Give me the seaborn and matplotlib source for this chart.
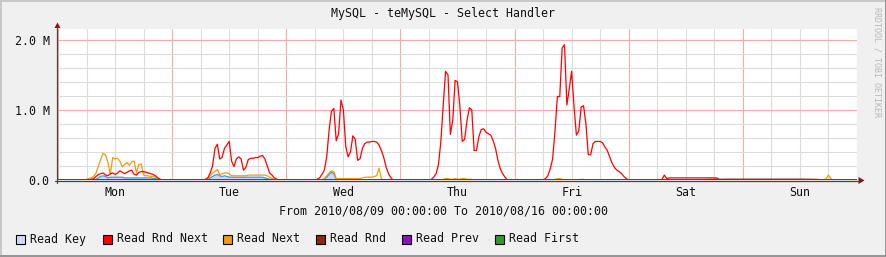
import numpy as np
import pandas as pd
import matplotlib
matplotlib.use("Agg")
import matplotlib.pyplot as plt
import seaborn as sns
from matplotlib.patches import Rectangle, Polygon
from matplotlib.lines import Line2D
from matplotlib.ticker import FixedLocator, MultipleLocator
import matplotlib.transforms as mtransforms

# ---------------- data (values in millions, half-hour steps) ----------------
TITLE = "MySQL - teMySQL - Select Handler"
RANGE_TEXT = "From 2010/08/09 00:00:00 To 2010/08/16 00:00:00"
WATERMARK = "RRDTOOL / TOBI OETIKER"
DAYS = ["Mon", "Tue", "Wed", "Thu", "Fri", "Sat", "Sun"]
Y_TICKS = [0.0, 1.0, 2.0]
Y_TICK_LABELS = ["0.0", "1.0 M", "2.0 M"]
SERIES = ["Read Key", "Read Rnd Next", "Read Next", "Read Rnd", "Read Prev", "Read First"]

read_rnd_next_mon = [0,0,0,0,0,0,0,0,0,0,0,0,0,0,
    .01,.02,.05,.08,.09,.10,.07,.06,.09,.10,.08,.10,.13,.11,.09,.11,.13,.14,.08,.07,.11,.12,.12,.11,.10,.09,.08,.06,.03,.01,
    0,0,0,0]
read_rnd_next_tue = [0,0,0,0,0,0,0,0,0,0,0,0,0,0,
    .01,.03,.10,.20,.45,.51,.30,.32,.45,.50,.55,.27,.19,.30,.33,.30,.14,.18,.29,.31,.31,.32,.32,.34,.35,.30,.20,.10,.07,.03,.01,
    0,0,0]
read_rnd_next_wed = [0,0,0,0,0,0,0,0,0,0,0,0,0,
    .01,.03,.08,.14,.33,.71,.98,1.02,.56,.66,1.14,1.00,.48,.33,.40,.63,.58,.28,.30,.45,.52,.54,.54,.55,.55,.54,.50,.42,.32,.18,.09,.03,
    0,0,0]
read_rnd_next_thu = [0,0,0,0,0,0,0,0,0,0,0,0,0,
    .01,.04,.09,.22,.55,1.07,1.55,1.50,.65,.85,1.42,1.40,1.05,.55,.58,.85,1.03,1.00,.42,.42,.62,.72,.73,.68,.66,.64,.56,.45,.28,.16,.09,.04,
    0,0,0]
read_rnd_next_fri = [0,0,0,0,0,0,0,0,0,0,0,0,0,
    .02,.06,.16,.30,.70,1.19,1.19,1.88,1.93,1.07,1.30,1.55,1.05,.64,.70,1.04,1.06,.80,.36,.36,.52,.55,.55,.55,.53,.47,.42,.33,.24,.18,.14,.12,.09,.05,.02]
read_rnd_next_sat = [0,0,0,0,0,0,0,0,0,0,0,0,0,0,
    .01,.07,.02,.03,.03,.03,.03,.03,.03,.03,.03,.03,.03,.03,.03,.03,.03,.03,.03,.03,.03,.03,.03,.03,
    .005,.005,.005,.005,.005,.005,.005,.005,.005,.005]
read_rnd_next_sun = [0,0,0,0,0,0,0,0,0,0,0,0,0,0,0,0,0,0,0,0,0,0,0,0,
    0,0,0,0,0,0,0,0,0,0,0,0,0,0,0,0,0,0,0,0,0,0,0,0]

read_next_mon = [0,0,0,0,0,0,0,0,0,0,0,0,
    .01,.02,.03,.05,.10,.20,.30,.38,.36,.25,.08,.32,.30,.31,.27,.19,.22,.25,.21,.26,.27,.10,.22,.23,.07,.06,.06,.05,.05,.04,.02,.01,
    0,0,0,0]
read_next_tue = [0,0,0,0,0,0,0,0,0,0,0,0,0,0,0,
    .02,.06,.10,.12,.15,.08,.09,.10,.10,.09,.06,.06,.06,.06,.06,.06,.06,.07,.07,.07,.07,.07,.07,.07,.07,.06,.04,.02,.01,
    0,0,0,0]
read_next_wed = [0,0,0,0,0,0,0,0,0,0,0,0,0,0,0,0,
    .02,.06,.10,.13,.12,.02,.02,.02,.02,.02,.02,.02,.02,.02,.02,.02,.03,.04,.04,.04,.04,.05,.06,.17,.02,0,
    0,0,0,0,0,0]
read_next_thu = [0,0,0,0,0,0,0,0,0,0,0,0,0,0,0,0,0,0,
    .01,.02,.02,.01,.01,.02,.01,.01,.02,.02,.01,.01,.01,
    0,0,0,0,0,0,0,0,0,0,0,0,0,0,0,0,0]
read_next_fri = [0,0,0,0,0,0,0,0,0,0,0,0,0,0,0,0,0,
    .01,.02,.02,.01,0,0,0,0,0,0,0,.01,.01,
    0,0,0,0,0,0,0,0,0,0,0,0,0,0,0,0,0,0]
read_next_sat = [0,0,0,0,0,0,0,0,0,0,0,0,0,0,0,0,0,0,0,0,0,0,0,0,
    0,0,0,0,0,0,0,0,0,0,0,0,0,0,0,0,0,0,0,0,0,0,0,0]
read_next_sun = [0,0,0,0,0,0,0,0,0,0,0,0,0,0,0,0,0,0,0,0,0,0,0,0,
    0,0,0,0,0,0,0,0,0,0,0,.02,.07,.02,0,0,0,0,0,0,0,0,0,0]

read_key_mon = [0,0,0,0,0,0,0,0,0,0,0,0,0,0,0,0,
    .01,.03,.05,.06,.05,.03,.04,.04,.04,.04,.04,.04,.03,.03,.03,.03,.03,.03,.03,.03,.03,.03,.03,.03,.02,.02,.01,
    0,0,0,0,0]
read_key_tue = [0,0,0,0,0,0,0,0,0,0,0,0,0,0,0,0,
    .03,.05,.07,.08,.06,.05,.06,.05,.04,.04,.04,.04,.04,.04,.04,.04,.04,.04,.04,.04,.04,.04,.04,.03,.02,.01,
    0,0,0,0,0,0]
read_key_wed = [0,0,0,0,0,0,0,0,0,0,0,0,0,0,0,0,
    .01,.04,.08,.11,.09,.01,
    0,0,0,0,0,0,0,0,0,0,0,0,0,0,0,0,0,0,0,0,0,0,0,0,0,0]
read_key_thu = [0,0,0,0,0,0,0,0,0,0,0,0,0,0,0,0,0,0,0,0,0,0,0,0,
    0,0,0,0,0,0,0,0,0,0,0,0,0,0,0,0,0,0,0,0,0,0,0,0]
read_key_fri = read_key_thu
read_key_sat = read_key_thu
read_key_sun = read_key_thu

# 3-hour steps
read_rnd = [.003,.003,.003,.003,.003,.003,.003,.003,
            .003,.003,.003,.003,.003,.003,.003,.003,
            .003,.003,.003,.003,.003,.003,.003,.003,
            .003,.003,.003,.003,.003,.003,.003,.003,
            .003,.003,.003,.003,.003,.003,.003,.003,
            .003,.003,.003,.004,.004,.004,.010,.012,
            .012,.012,.012,.012,.012,.010,0,0, 0]
# daily steps
read_prev = [0, 0, 0, 0, 0, 0, 0, 0]
read_first = [0, 0, 0, 0, 0, 0, 0, 0]

COLORS = {"Read Key": "#D0D8F8", "Read Rnd Next": "#FF0000", "Read Next": "#F09A10",
          "Read Rnd": "#8B2A0A", "Read Prev": "#9010C0", "Read First": "#2E9A2E"}
KEY_LINE = "#3A9AD8"

# ---------------- build frames ----------------
def week(*days):
    vals = []
    for d in days:
        vals.extend(d)
    vals.append(0)
    return np.array(vals, dtype=float) * 1e6

rnd_next = week(read_rnd_next_mon, read_rnd_next_tue, read_rnd_next_wed, read_rnd_next_thu,
                read_rnd_next_fri, read_rnd_next_sat, read_rnd_next_sun)
nxt = week(read_next_mon, read_next_tue, read_next_wed, read_next_thu,
           read_next_fri, read_next_sat, read_next_sun)
key = week(read_key_mon, read_key_tue, read_key_wed, read_key_thu,
           read_key_fri, read_key_sat, read_key_sun)
hours_half = np.arange(len(rnd_next)) * 0.5
hours_3 = np.arange(len(read_rnd)) * 3.0
hours_24 = np.arange(len(read_prev)) * 24.0

df = pd.DataFrame({"h": hours_half, "key": key, "rnd_next": rnd_next, "next": nxt})
df3 = pd.DataFrame({"h": hours_3, "v": np.array(read_rnd) * 1e6})
df24 = pd.DataFrame({"h": hours_24, "prev": np.array(read_prev) * 1e6,
                     "first": np.array(read_first) * 1e6})

# ---------------- figure ----------------
W, H = 887, 257
sns.set_style("white")
plt.rcParams["font.family"] = ["DejaVu Sans Mono"]
FS = 8.4

fig = plt.figure(figsize=(W / 100, H / 100), dpi=100, facecolor="#F0F0F0")
L, R, T, B = 58, 857, 29, 180
ax = fig.add_axes([L / W, 1 - B / H, (R - L) / W, (B - T) / H])
ax.set_facecolor("white")

def P(x, y):
    return (x / W, 1 - y / H)

# grid
ax.set_xlim(0, 168)
ax.set_ylim(0, 2.153e6)
ax.xaxis.set_major_locator(MultipleLocator(24))
ax.xaxis.set_minor_locator(MultipleLocator(6))
ax.yaxis.set_major_locator(FixedLocator([v * 1e6 for v in Y_TICKS]))
ax.yaxis.set_minor_locator(MultipleLocator(0.2e6))
ax.grid(which="minor", color="#DCDCDC", linewidth=0.8)
ax.grid(which="major", color="#F2AAAA", linewidth=0.8)
ax.set_axisbelow(True)
ax.set_yticklabels(Y_TICK_LABELS)
ax.set_xticklabels([])
ax.tick_params(axis="y", which="both", length=0, pad=6, labelsize=FS, labelcolor="#111111")
ax.tick_params(axis="x", which="major", length=2.5, color="#F2AAAA", width=0.8)
ax.tick_params(axis="x", which="minor", length=0)
for s in ax.spines.values():
    s.set_visible(False)

# series
ax.fill_between(df["h"], 0, df["key"], color=COLORS["Read Key"], linewidth=0, zorder=2)
sns.lineplot(data=df, x="h", y="key", ax=ax, color=KEY_LINE, linewidth=0.9, zorder=3)
sns.lineplot(data=df, x="h", y="next", ax=ax, color=COLORS["Read Next"], linewidth=0.9, zorder=4)
sns.lineplot(data=df, x="h", y="rnd_next", ax=ax, color=COLORS["Read Rnd Next"], linewidth=0.9, zorder=5)
sns.lineplot(data=df3, x="h", y="v", ax=ax, color=COLORS["Read Rnd"], linewidth=0.9, zorder=6)
sns.lineplot(data=df24, x="h", y="first", ax=ax, color=COLORS["Read First"], linewidth=1.0, zorder=7)
sns.lineplot(data=df24, x="h", y="prev", ax=ax, color=COLORS["Read Prev"], linewidth=1.2, zorder=8)
ax.set_xlabel("")
ax.set_ylabel("")
ax.set_xlim(0, 168)
ax.set_ylim(0, 2.153e6)

# day labels under the axis
trans = mtransforms.blended_transform_factory(ax.transData, ax.transAxes)
for i, d in enumerate(DAYS):
    ax.text(24 * i + 12, -12 / (B - T), d, transform=trans, ha="center", va="center",
            fontsize=FS, color="#111111")

# axes lines and arrows
AXC = "#5A3A3A"
fig.add_artist(Line2D([P(57.5, 0)[0]] * 2, [P(0, 183)[1], P(0, 26)[1]], color=AXC, lw=0.9))
fig.add_artist(Line2D([P(55, 0)[0], P(860, 0)[0]], [P(0, 180.5)[1]] * 2, color=AXC, lw=0.9))
fig.add_artist(Polygon([P(54.5, 28), P(60.5, 28), P(57.5, 22.5)], closed=True,
                       transform=fig.transFigure, color="#8B1010", lw=0))
fig.add_artist(Polygon([P(858.5, 177), P(858.5, 184), P(864.5, 180.5)], closed=True,
                       transform=fig.transFigure, color="#8B1010", lw=0))

# texts
fig.text(*P(443.5, 14), TITLE, ha="center", va="center", fontsize=FS, color="#111111")
fig.text(*P(443.5, 211), RANGE_TEXT, ha="center", va="center", fontsize=FS, color="#111111")
fig.text(*P(877, 7), WATERMARK, ha="center", va="top", rotation=-90, fontsize=6,
         color="#B8B8B8")

# legend
legend_x = [16, 103, 223, 316, 402, 495]
for name, x in zip(SERIES, legend_x):
    fig.add_artist(Rectangle(P(x, 243.5), 9 / W, 9 / H, transform=fig.transFigure,
                             facecolor=COLORS[name], edgecolor="black", lw=0.8))
    fig.text(*P(x + 14, 239), name, ha="left", va="center", fontsize=FS, color="#111111")

# frame shading
fig.add_artist(Rectangle((0, 0), 1, 2 / H, transform=fig.transFigure, color="#969696", lw=0))
fig.add_artist(Rectangle((1 - 2 / W, 0), 2 / W, 1, transform=fig.transFigure, color="#969696", lw=0))
fig.add_artist(Rectangle((0, 1 - 2 / H), 1 - 2 / W, 2 / H, transform=fig.transFigure, color="#C8C8C8", lw=0))
fig.add_artist(Rectangle((0, 2 / H), 2 / W, 1 - 4 / H, transform=fig.transFigure, color="#C8C8C8", lw=0))

fig.savefig("out.png", dpi=100, facecolor=fig.get_facecolor())
